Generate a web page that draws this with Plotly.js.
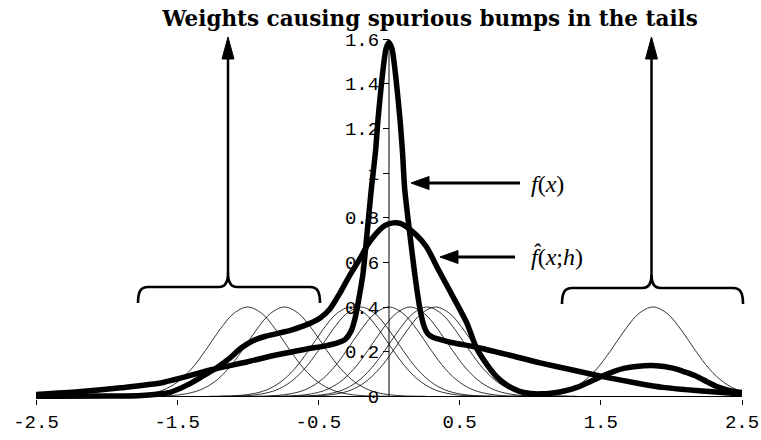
<!DOCTYPE html>
<html>
<head>
<meta charset="utf-8">
<script src="https://cdn.plot.ly/plotly-3.0.1.min.js"></script>
<style>html,body{margin:0;padding:0;background:#fff;}#chart{width:761px;height:440px;}</style>
</head>
<body>
<div id="chart"></div>
<script>
// ---- data ----
var chartTitle = "Weights causing spurious bumps in the tails";

// true density f(x)
var fX = [-2.5,-2.2,-1.9,-1.6,-1.25,-1.0,-0.8,-0.6,-0.45,-0.37,-0.31,-0.27,-0.24,-0.21,-0.184,-0.16,-0.125,-0.095,-0.078,-0.05,-0.022,0,0.022,0.05,0.078,0.095,0.111,0.147,0.182,0.217,0.245,0.275,0.31,0.36,0.45,0.62,0.85,1.07,1.3,1.54,1.75,1.94,2.1,2.29,2.5];
var fY = [0.008,0.02,0.038,0.062,0.12,0.155,0.185,0.21,0.226,0.238,0.255,0.29,0.35,0.45,0.55,0.70,0.93,1.10,1.24,1.42,1.555,1.585,1.555,1.42,1.24,1.10,0.93,0.73,0.55,0.40,0.32,0.28,0.265,0.255,0.24,0.22,0.185,0.15,0.118,0.085,0.06,0.04,0.03,0.02,0.01];

// kernel estimate fhat(x;h)
var fhX = [-2.5,-2.0,-1.75,-1.55,-1.43,-1.32,-1.22,-1.13,-1.05,-0.96,-0.88,-0.8,-0.7,-0.63,-0.55,-0.49,-0.42,-0.35,-0.28,-0.21,-0.15,-0.09,-0.03,0.03,0.08,0.123,0.19,0.265,0.35,0.45,0.55,0.62,0.69,0.76,0.84,0.925,1.0,1.067,1.16,1.256,1.33,1.40,1.5,1.59,1.67,1.75,1.89,2.01,2.1,2.18,2.25,2.32,2.4,2.5];
var fhY = [0.0,0.001,0.004,0.018,0.05,0.09,0.128,0.17,0.215,0.25,0.268,0.28,0.295,0.31,0.33,0.35,0.39,0.46,0.54,0.612,0.68,0.73,0.765,0.777,0.775,0.76,0.725,0.67,0.567,0.45,0.33,0.216,0.145,0.089,0.048,0.022,0.013,0.011,0.015,0.026,0.04,0.059,0.088,0.111,0.126,0.134,0.137,0.126,0.108,0.089,0.066,0.044,0.028,0.017];

// individual kernel bumps: centres and the common bump profile
var kernelCenters = [-1.0,-0.74,-0.27,-0.2,0.0,0.15,0.27,0.33,1.87];
var bumpOffsets = [-1.0,-0.9,-0.8,-0.7,-0.6,-0.5,-0.4,-0.3,-0.2,-0.1,0,0.1,0.2,0.3,0.4,0.5,0.6,0.7,0.8,0.9,1.0];
var bumpHeights = [0.0003,0.001,0.0035,0.011,0.028,0.063,0.122,0.205,0.297,0.371,0.4,0.371,0.297,0.205,0.122,0.063,0.028,0.011,0.0035,0.001,0.0003];

var xTickVals = [-2.5,-1.5,-0.5,0.5,1.5,2.5];
var xTickText = ["-2.5","-1.5","-0.5","0.5","1.5","2.5"];
var yTickVals = [0,0.2,0.4,0.6,0.8,1,1.2,1.4,1.6];
var yTickText = ["0","0.2","0.4","0.6","0.8","1","1.2","1.4","1.6"];

// ---- layout geometry (pixels) ----
var W = 761, H = 440, ML = 36, MR = 19, MT = 28, MB = 41;
var PW = W - ML - MR, PH = H - MT - MB;
function X(px){ return (px - ML) / PW; }
function Y(py){ return (H - MB - py) / PH; }
function P(px, py){ return X(px).toFixed(5) + "," + Y(py).toFixed(5); }

var traces = [];
kernelCenters.forEach(function(c){
  traces.push({
    x: bumpOffsets.map(function(o){ return c + o; }),
    y: bumpHeights,
    mode: "lines", line: {color: "#000", width: 0.8, shape: "spline", smoothing: 1},
    hoverinfo: "skip", showlegend: false
  });
});
traces.push({x: fX, y: fY, mode: "lines", line: {color: "#000", width: 5.5, shape: "spline", smoothing: 0.6}, hoverinfo: "skip", showlegend: false});
traces.push({x: fhX, y: fhY, mode: "lines", line: {color: "#000", width: 5.5, shape: "spline", smoothing: 0.8}, hoverinfo: "skip", showlegend: false});

function brace(x0, x1, tipX, yLine, yTip, yEnd){
  return "M" + P(x0, yEnd) +
    " C" + P(x0, yLine+4) + " " + P(x0+3, yLine) + " " + P(x0+10, yLine) +
    " L" + P(tipX-9, yLine) +
    " C" + P(tipX-3, yLine) + " " + P(tipX, yLine-4) + " " + P(tipX, yTip) +
    " C" + P(tipX, yLine-4) + " " + P(tipX+3, yLine) + " " + P(tipX+9, yLine) +
    " L" + P(x1-10, yLine) +
    " C" + P(x1-3, yLine) + " " + P(x1, yLine+4) + " " + P(x1, yEnd);
}
function tri(a, b, c){ return "M" + P(a[0],a[1]) + " L" + P(b[0],b[1]) + " L" + P(c[0],c[1]) + " Z"; }

var shapes = [
  {type: "line", xref: "x", yref: "y", x0: 0, x1: 0, y0: 0, y1: 1.6, line: {color: "#000", width: 1}, layer: "below"},
  {type: "path", xref: "paper", yref: "paper", path: brace(138, 320, 228, 287, 273, 303), line: {color: "#000", width: 2.6}},
  {type: "path", xref: "paper", yref: "paper", path: brace(562, 743, 651.5, 288, 275, 304), line: {color: "#000", width: 2.6}},
  {type: "line", xref: "paper", yref: "paper", x0: X(228), x1: X(228), y0: Y(274), y1: Y(56), line: {color: "#000", width: 2.5}},
  {type: "path", xref: "paper", yref: "paper", path: tri([228,37],[222,59],[234,59]), fillcolor: "#000", line: {color: "#000", width: 1}},
  {type: "line", xref: "paper", yref: "paper", x0: X(651.5), x1: X(651.5), y0: Y(276), y1: Y(56), line: {color: "#000", width: 2.5}},
  {type: "path", xref: "paper", yref: "paper", path: tri([651.5,37],[645.5,59],[657.5,59]), fillcolor: "#000", line: {color: "#000", width: 1}},
  {type: "line", xref: "paper", yref: "paper", x0: X(520), x1: X(426), y0: Y(183), y1: Y(183), line: {color: "#000", width: 3}},
  {type: "path", xref: "paper", yref: "paper", path: tri([411,183],[429,176.5],[429,189.5]), fillcolor: "#000", line: {color: "#000", width: 1}},
  {type: "line", xref: "paper", yref: "paper", x0: X(515), x1: X(455), y0: Y(257), y1: Y(257), line: {color: "#000", width: 3}},
  {type: "path", xref: "paper", yref: "paper", path: tri([440,257],[458,250.5],[458,263.5]), fillcolor: "#000", line: {color: "#000", width: 1}}
];

var annotations = [
  {xref: "paper", yref: "paper", x: X(529), y: Y(184), xanchor: "left", yanchor: "middle", showarrow: false,
   text: "<i>f</i>(<i>x</i>)", font: {family: "Liberation Serif, serif", size: 24, color: "#000"}},
  {xref: "paper", yref: "paper", x: X(529), y: Y(256), xanchor: "left", yanchor: "middle", showarrow: false,
   text: "<i>f\u0302</i>(<i>x</i>;<i>h</i>)", font: {family: "Liberation Serif, serif", size: 24, color: "#000"}}
];

var monoFont = {family: "Courier New, Liberation Mono, monospace", size: 19, color: "#000"};

var layout = {
  width: W, height: H,
  margin: {l: ML, r: MR, t: MT, b: MB, pad: 0},
  paper_bgcolor: "#fff", plot_bgcolor: "#fff",
  showlegend: false,
  title: {text: "<b>" + chartTitle + "</b>", x: X(430), xref: "paper", xanchor: "center",
          y: 1 - 18/H, yref: "container", yanchor: "middle",
          font: {family: "DejaVu Serif, serif", size: 21.5, color: "#000"}},
  xaxis: {range: [-2.5, 2.5], tickvals: xTickVals, ticktext: xTickText, ticks: "outside", ticklen: 5,
          tickcolor: "#000", tickwidth: 1, showline: false, showgrid: false, zeroline: false,
          tickfont: monoFont, fixedrange: true},
  yaxis: {range: [-0.012, 1.65], tickvals: yTickVals, ticktext: yTickText, ticks: "outside", ticklen: 6,
          tickcolor: "#000", tickwidth: 1, anchor: "free", position: 0.5, showline: false, showgrid: false,
          zeroline: true, zerolinecolor: "#000", zerolinewidth: 1, layer: "below traces",
          tickfont: monoFont, fixedrange: true},
  shapes: shapes,
  annotations: annotations
};

Plotly.newPlot("chart", traces, layout, {displayModeBar: false, staticPlot: true});
</script>
</body>
</html>
